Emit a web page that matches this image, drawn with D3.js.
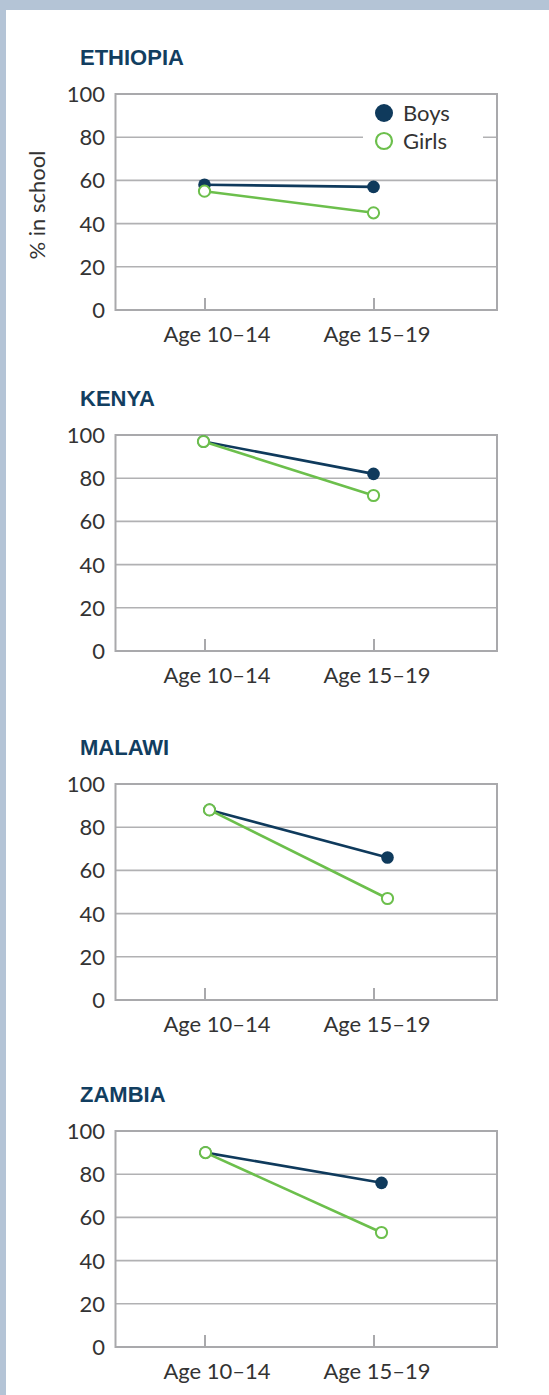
<!DOCTYPE html>
<html>
<head>
<meta charset="utf-8">
<script src="https://cdn.jsdelivr.net/npm/d3@7/dist/d3.min.js"></script>
<style>
  html, body { margin: 0; padding: 0; background: #b4c4d6; }
  #chart { width: 549px; height: 1395px; }
  svg { display: block; }
  .tick-label { font-family: Lato, "Open Sans", sans-serif; font-weight: 400; fill: #333; }
</style>
</head>
<body>
<div id="chart"></div>
<script>
(function (d3) {
  'use strict';

  // data
  var countries = ["ETHIOPIA", "KENYA", "MALAWI", "ZAMBIA"];
  var ageGroups = ["Age 10\u201314", "Age 15\u201319"];
  var boys = [[58, 57], [97, 82], [88, 66], [90, 76]];
  var girls = [[55, 45], [97, 72], [88, 47], [90, 53]];
  var yTicks = [0, 20, 40, 60, 80, 100];
  var seriesNames = ["Boys", "Girls"];

  // layout
  var W = 549, H = 1395;
  var frameLeft = 115.5, frameRight = 497, frameH = 216;
  var panelTops = [94, 435, 784, 1131];
  var markShift = [[0, 0], [-1, 0], [5, 14], [1, 8]];
  var labelShift = [12, 3];
  var navy = "#0f3a5c", green = "#6cbf4c", grey = "#a9a9ac";

  var svg = d3.select("#chart").append("svg").attr("width", W).attr("height", H);

  svg.append("rect").attr("x", 6).attr("y", 10).attr("width", W - 6).attr("height", H - 10).attr("fill", "#fff");

  var x = d3.scalePoint().domain(ageGroups).range([frameLeft + 89, frameLeft + 258]);

  countries.forEach(function (name, i) {
    var top = panelTops[i];
    var y = d3.scaleLinear().domain([0, 100]).range([top + frameH, top]);
    var g = svg.append("g");

    g.append("text")
      .attr("x", 80).attr("y", top - 29)
      .attr("font-family", "'Liberation Sans', Arial, sans-serif")
      .attr("font-weight", "bold").attr("font-size", 22)
      .attr("fill", "#123e60")
      .text(name);

    // gridlines
    g.selectAll("line.grid").data(yTicks.slice(1, -1)).enter().append("line")
      .attr("x1", frameLeft).attr("x2", frameRight)
      .attr("y1", function (d) { return y(d); }).attr("y2", function (d) { return y(d); })
      .attr("stroke", "#b1b1b3").attr("stroke-width", 1.6);

    // y axis labels
    g.selectAll("text.yt").data(yTicks).enter().append("text")
      .attr("class", "tick-label")
      .attr("x", 105).attr("y", function (d) { return y(d); })
      .attr("dy", "0.36em").attr("text-anchor", "end")
      .attr("font-size", 22)
      .text(function (d) { return d; });

    // x axis ticks
    var xAxisG = g.append("g").attr("transform", "translate(0," + (top + frameH) + ")")
      .call(d3.axisBottom(x).tickSize(-12).tickPadding(0));
    xAxisG.select(".domain").remove();
    xAxisG.selectAll(".tick line").attr("stroke", grey).attr("stroke-width", 2);
    xAxisG.selectAll(".tick text")
      .attr("class", "tick-label")
      .attr("fill", null)
      .attr("font-size", 22).attr("font-family", null)
      .attr("y", 32).attr("dy", 0)
      .attr("x", function (d, j) { return labelShift[j]; });

    // frame
    g.append("rect")
      .attr("x", frameLeft).attr("y", top)
      .attr("width", frameRight - frameLeft).attr("height", frameH)
      .attr("fill", "none").attr("stroke", grey).attr("stroke-width", 2);

    var px = function (d, j) { return x(ageGroups[j]) + markShift[i][j]; };
    var line = d3.line().x(px).y(function (d) { return y(d); });

    g.append("path").datum(boys[i]).attr("d", line)
      .attr("fill", "none").attr("stroke", navy).attr("stroke-width", 2.6);
    g.selectAll("circle.boy").data(boys[i]).enter().append("circle")
      .attr("cx", px).attr("cy", function (d) { return y(d); }).attr("r", 6.3)
      .attr("fill", navy);

    g.append("path").datum(girls[i]).attr("d", line)
      .attr("fill", "none").attr("stroke", green).attr("stroke-width", 2.6);
    g.selectAll("circle.girl").data(girls[i]).enter().append("circle")
      .attr("cx", px).attr("cy", function (d) { return y(d); }).attr("r", 5.6)
      .attr("fill", "#fff").attr("stroke", green).attr("stroke-width", 2);

    if (i === 0) {
      // y axis title
      g.append("text")
        .attr("class", "tick-label")
        .attr("transform", "translate(45," + (top + frameH / 2 + 3) + ") rotate(-90)")
        .attr("text-anchor", "middle").attr("font-size", 22)
        .text("% in school");

      // legend
      var lg = g.append("g");
      lg.append("rect").attr("x", 363).attr("y", top + 4).attr("width", 120).attr("height", 58).attr("fill", "#fff");
      seriesNames.forEach(function (s, k) {
        var cy = top + 19 + k * 28;
        lg.append("circle").attr("cx", 384).attr("cy", cy)
          .attr("r", k === 0 ? 9 : 8)
          .attr("fill", k === 0 ? navy : "#fff")
          .attr("stroke", k === 0 ? "none" : green)
          .attr("stroke-width", 2.2);
        lg.append("text").attr("class", "tick-label")
          .attr("x", 403).attr("y", cy + 7.5)
          .attr("font-size", 22)
          .text(s);
      });
    }
  });
})(d3);
</script>
</body>
</html>
